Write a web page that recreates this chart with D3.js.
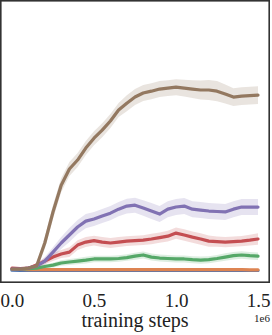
<!DOCTYPE html>
<html>
<head>
<meta charset="utf-8">
<script src="https://cdn.jsdelivr.net/npm/d3@7"></script>
<style>
body { margin: 0; background: #fff; }
text { font-family: "Liberation Serif", "DejaVu Serif", serif; fill: #222; }
</style>
</head>
<body>
<script>

// training steps, in units of 1e6
var steps = [0, 0.05, 0.1, 0.15, 0.2, 0.25, 0.3, 0.35, 0.4, 0.45, 0.5, 0.55, 0.6, 0.65, 0.7, 0.75,
    0.8, 0.85, 0.9, 0.95, 1.0, 1.05, 1.1, 1.15, 1.2, 1.25, 1.3, 1.35, 1.4, 1.45, 1.5];

var xTicks = [0, 0.5, 1.0, 1.5];

var blueMean   = [-5, -6, -6, -5, -6, -6, -5, -6, -6, -5, -6, -6, -6, -5, -6, -6, -6, -5, -6, -6, -6, -5, -6, -6, -5, -6, -6, -6, -5, -6, -6];
var blueSd     = [2, 2, 2, 2, 2, 2, 2, 2, 2, 2, 2, 2, 2, 2, 2, 2, 2, 2, 2, 2, 2, 2, 2, 2, 2, 2, 2, 2, 2, 2, 2];
var orangeMean = [0, -1, -2, -2, -2, -2, -2, -2, -2, -2, -2, -2, -2, -2, -2, -2, -2, -2, -2, -2, -2, -2, -2, -2, -2, -2, -2, -2, -2, -3, -3];
var orangeSd   = [2, 2, 2, 3, 3, 3, 3, 3, 3, 3, 3, 3, 3, 3, 3, 3, 3, 3, 3, 3, 3, 3, 3, 3, 3, 3, 3, 3, 3, 3, 3];
var greenMean  = [0, 0, 2, 4, 11, 17, 26, 30, 34, 38, 43, 43, 43, 45, 49, 55, 60, 51, 47, 45, 43, 43, 40, 38, 40, 45, 51, 57, 60, 57, 55];
var greenSd    = [2, 2, 3, 5, 8, 10, 12, 13, 13, 14, 14, 14, 14, 14, 14, 15, 15, 15, 15, 15, 15, 15, 15, 15, 15, 15, 16, 16, 16, 16, 16];
var redMean    = [4, 2, 4, 17, 34, 51, 64, 72, 102, 115, 121, 115, 111, 115, 119, 121, 123, 128, 134, 140, 153, 145, 136, 128, 119, 117, 115, 117, 119, 123, 128];
var redSd      = [3, 3, 4, 9, 13, 17, 17, 21, 21, 21, 21, 21, 21, 21, 21, 21, 21, 22, 22, 23, 24, 24, 24, 24, 24, 22, 22, 22, 22, 23, 24];
var purpleMean = [0, 0, 4, 13, 34, 72, 111, 145, 179, 204, 213, 226, 238, 255, 268, 272, 260, 247, 234, 255, 264, 268, 255, 251, 247, 245, 243, 255, 264, 264, 264];
var purpleSd   = [2, 2, 4, 9, 17, 21, 26, 30, 30, 30, 30, 30, 30, 30, 31, 32, 33, 34, 34, 34, 34, 34, 34, 34, 34, 34, 34, 34, 34, 34, 34];
var brownMean  = [0, 0, 4, 13, 111, 243, 357, 426, 464, 515, 557, 591, 630, 677, 706, 732, 749, 757, 766, 770, 774, 770, 766, 762, 762, 757, 745, 732, 736, 738, 740];
var brownSd    = [2, 2, 4, 13, 26, 30, 30, 30, 30, 30, 30, 30, 30, 30, 34, 34, 34, 34, 34, 34, 34, 36, 38, 40, 43, 43, 40, 38, 38, 38, 38];

var series = [
    {color: "#4C72B0", mean: blueMean, sd: blueSd},
    {color: "#DD8452", mean: orangeMean, sd: orangeSd},
    {color: "#55A868", mean: greenMean, sd: greenSd},
    {color: "#C44E52", mean: redMean, sd: redSd},
    {color: "#8172B3", mean: purpleMean, sd: purpleSd},
    {color: "#937860", mean: brownMean, sd: brownSd}
];

var width = 272, height = 335,
    plot = {left: 1, top: 1, right: 269, bottom: 282};

var x = d3.scaleLinear()
    .domain([-0.067, 1.567])
    .range([plot.left, plot.right]);

var y = d3.scaleLinear()
    .domain([-55, 1145])
    .range([plot.bottom, plot.top - 1]);

var svg = d3.select("body").append("svg")
    .attr("width", width)
    .attr("height", height);

svg.append("clipPath").attr("id", "clip")
    .append("rect")
    .attr("x", plot.left).attr("y", plot.top)
    .attr("width", plot.right - plot.left).attr("height", plot.bottom - plot.top);

var area = d3.area()
    .x(function(d, i) { return x(steps[i]); })
    .y0(function(d) { return y(d[0] - d[1]); })
    .y1(function(d) { return y(d[0] + d[1]); });

var line = d3.line()
    .x(function(d, i) { return x(steps[i]); })
    .y(function(d) { return y(d); });

var g = svg.append("g").attr("clip-path", "url(#clip)");

// shaded bands first, then the mean lines on top
series.forEach(function(s) {
    g.append("path")
        .datum(s.mean.map(function(m, i) { return [m, s.sd[i]]; }))
        .attr("d", area)
        .attr("fill", s.color)
        .attr("fill-opacity", 0.2)
        .attr("stroke", "none");
});

series.forEach(function(s) {
    g.append("path")
        .datum(s.mean)
        .attr("d", line)
        .attr("fill", "none")
        .attr("stroke", s.color)
        .attr("stroke-width", 3.2)
        .attr("stroke-linejoin", "round")
        .attr("stroke-linecap", "round");
});

// frame
svg.append("rect")
    .attr("x", plot.left - 0.2).attr("y", plot.top - 0.2)
    .attr("width", plot.right - plot.left + 0.4)
    .attr("height", plot.bottom - plot.top + 0.4)
    .attr("fill", "none")
    .attr("stroke", "#333")
    .attr("stroke-width", 1.6);

var xAxis = d3.axisBottom(x)
    .tickValues(xTicks)
    .tickFormat(d3.format(".1f"))
    .tickSize(0)
    .tickPadding(0);

var ax = svg.append("g")
    .attr("transform", "translate(0," + plot.bottom + ")")
    .call(xAxis);
ax.select(".domain").remove();
ax.selectAll("text")
    .attr("dy", null)
    .attr("y", 24.5)
    .style("font-size", "19px")
    .style("font-family", "'Liberation Serif', serif")
    .attr("fill", "#222");

svg.append("text")
    .attr("x", (plot.left + plot.right) / 2)
    .attr("y", 327)
    .attr("text-anchor", "middle")
    .style("font-size", "20px")
    .text("training steps");

svg.append("text")
    .attr("x", 270)
    .attr("y", 322)
    .attr("text-anchor", "end")
    .style("font-size", "11px")
    .text("1e6");

</script>
</body>
</html>
